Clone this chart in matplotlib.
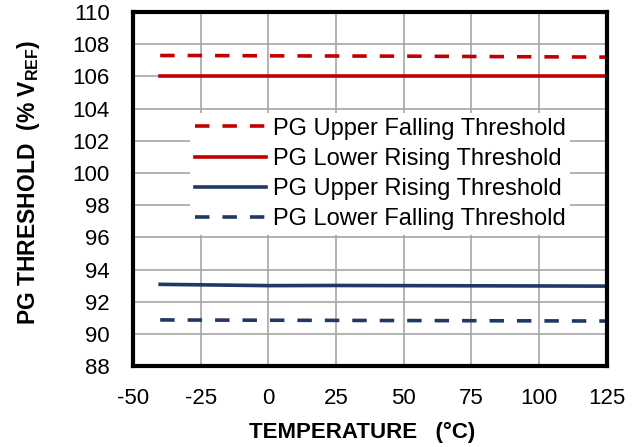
import matplotlib
matplotlib.use('Agg')
import matplotlib.pyplot as plt

plt.rcParams['font.family'] = ['Liberation Sans', 'DejaVu Sans']
plt.rcParams['mathtext.fontset'] = 'custom'
plt.rcParams['mathtext.rm'] = 'Liberation Sans'
plt.rcParams['mathtext.bf'] = 'Liberation Sans:bold'
plt.rcParams['axes.unicode_minus'] = False

# Data
temp = [-40, -25, 0, 25, 50, 75, 100, 125]
upper_falling = [107.30, 107.30, 107.28, 107.27, 107.26, 107.24, 107.22, 107.20]
lower_rising = [106.05, 106.05, 106.05, 106.05, 106.05, 106.05, 106.05, 106.05]
upper_rising = [93.08, 93.05, 93.00, 93.01, 93.00, 92.99, 92.98, 92.97]
lower_falling = [90.87, 90.86, 90.85, 90.84, 90.83, 90.82, 90.81, 90.80]

xticks = [-50, -25, 0, 25, 50, 75, 100, 125]
yticks = list(range(88, 111, 2))

red = '#C00000'
navy = '#1F3864'

fig = plt.figure(figsize=(6.4, 4.47), dpi=100)
ax = fig.add_axes([0.208, 0.181, 0.740, 0.792])

lw = 2.6
dash = (0, (4.0, 3.6))
ax.plot(temp, upper_falling, color=red, lw=lw, ls=dash, label='PG Upper Falling Threshold')
ax.plot(temp, lower_rising, color=red, lw=lw, label='PG Lower Rising Threshold')
ax.plot(temp, upper_rising, color=navy, lw=lw, label='PG Upper Rising Threshold')
ax.plot(temp, lower_falling, color=navy, lw=lw, ls=dash, label='PG Lower Falling Threshold')

ax.set_xlim(-50, 125)
ax.set_ylim(88, 110)
ax.set_xticks(xticks)
ax.set_yticks(yticks)
ax.grid(True, color='#a6a6a6', lw=1.2)
ax.set_axisbelow(True)
ax.tick_params(labelsize=16, length=0)
ax.tick_params(axis='y', pad=17)
ax.tick_params(axis='x', pad=16)

for s in ax.spines.values():
    s.set_linewidth(3)
    s.set_color('black')

ax.set_xlabel('TEMPERATURE   (°C)', fontsize=16, fontweight='bold')
ax.set_ylabel(r'PG THRESHOLD  (% V$_\mathbf{REF}$)', fontsize=16.5, fontweight='bold')
ax.xaxis.set_label_coords(0.483, -0.157)
ax.yaxis.set_label_coords(-0.193, 0.518)

leg = ax.legend(loc='upper left', bbox_to_anchor=(0.12, 0.715), borderaxespad=0,
                fontsize=17, handlelength=3.0, handletextpad=0.3, labelspacing=0.35,
                frameon=True, fancybox=False, borderpad=0.2)
leg.get_frame().set_edgecolor('none')
leg.get_frame().set_facecolor('white')
leg.get_frame().set_alpha(1)

fig.savefig('out.png', dpi=100)
